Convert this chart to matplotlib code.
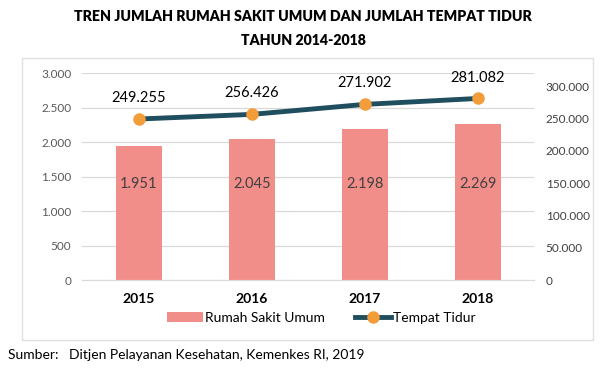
import matplotlib.pyplot as plt
from matplotlib.patches import Rectangle

plt.rcParams['font.family'] = ['Lato', 'DejaVu Sans']

years = ["2015", "2016", "2017", "2018"]
rumah_sakit = [1951, 2045, 2198, 2269]
tempat_tidur = [249255, 256426, 271902, 281082]


def fmt(v):
    return "{:,}".format(v).replace(",", ".")


fig = plt.figure(figsize=(6.06, 3.72), dpi=100)
ax = fig.add_axes([0.136, 0.247, 0.746, 0.556])
ax2 = ax.twinx()

x = list(range(len(years)))
bars = ax.bar(x, rumah_sakit, width=0.4, color="#F28E89", zorder=2,
              label="Rumah Sakit Umum")
for xi, v in zip(x, rumah_sakit):
    ax.text(xi, 1400, fmt(v), ha="center", va="center", fontsize=10.5,
            color="#404040", zorder=3)

line, = ax2.plot(x, tempat_tidur, color="#1F4E5F", lw=3.5, marker="o",
                 markersize=8, markerfacecolor="#F39C3A",
                 markeredgecolor="#F39C3A", zorder=4, label="Tempat Tidur")
for xi, v in zip(x, tempat_tidur):
    ax2.annotate(fmt(v), (xi, v), xytext=(0, 10), textcoords="offset points",
                 ha="center", va="bottom", fontsize=10.5, color="black")

ax.set_xlim(-0.5, 3.5)
ax.set_ylim(0, 3000)
ax.set_yticks(range(0, 3001, 500))
ax.set_yticklabels([fmt(v) for v in range(0, 3001, 500)])
ax2.set_ylim(0, 320000)
ax2.set_yticks(range(0, 300001, 50000))
ax2.set_yticklabels([fmt(v) for v in range(0, 300001, 50000)])

ax.set_xticks(x)
ax.set_xticklabels(years, fontweight="bold", fontsize=10)
ax.grid(axis="y", color="#D9D9D9", lw=0.9, zorder=0)
ax.set_axisbelow(True)
for a in (ax, ax2):
    for s in a.spines.values():
        s.set_visible(False)
ax.spines["bottom"].set_visible(True)
ax.spines["bottom"].set_color("#D9D9D9")
ax.tick_params(axis="x", length=0, pad=9)
ax.tick_params(axis="y", length=0, labelsize=8.5, labelcolor="#595959", pad=8)
ax2.tick_params(axis="y", length=0, labelsize=8.5, labelcolor="#404040", pad=8)

fig.legend(handles=[bars, line], loc="center", bbox_to_anchor=(0.53, 0.145),
           ncol=2, frameon=False, fontsize=10, handlelength=2.6,
           handletextpad=0.1, columnspacing=2.2)

fig.patches.append(Rectangle((22 / 606, 1 - 340 / 372), 571 / 606, 282 / 372,
                             transform=fig.transFigure, fill=False,
                             edgecolor="#E0E0E0", lw=1))

fig.text(0.5, 0.955, "TREN JUMLAH RUMAH SAKIT UMUM DAN JUMLAH TEMPAT TIDUR",
         ha="center", va="center", fontsize=10.2, fontweight="heavy")
fig.text(0.5, 0.89, "TAHUN 2014-2018", ha="center", va="center",
         fontsize=10.2, fontweight="heavy")
fig.text(8 / 606, 0.045, "Sumber:   Ditjen Pelayanan Kesehatan, Kemenkes RI, 2019",
         ha="left", va="center", fontsize=10)

fig.savefig("out.png", dpi=100)
